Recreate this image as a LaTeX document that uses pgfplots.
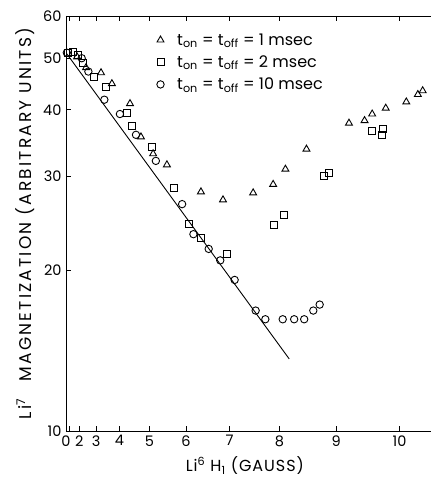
\documentclass[border=0pt]{standalone}
\usepackage{fontspec}
\setmainfont{Poppins}
\usepackage{pgfplots}
\pgfplotsset{compat=1.18}

% field axis is drawn in H^2, labelled in H
\pgfplotstableread{
h     m
1.82  50.3
2.45  48.0
3.24  46.96
3.71  44.8
4.38  41.1
4.74  35.6
5.11  33.1
5.50  31.56
6.36  28.08
6.86  27.13
7.49  27.96
7.88  29.0
8.11  30.97
8.49  33.77
9.21  37.78
9.46  38.2
9.58  39.3
9.79  40.3
10.10 41.4
10.27 42.75
10.34 43.45
}\onems

\pgfplotstableread{
h     m
0.77  51.2
1.45  51.3
1.90  50.75
2.26  49.0
2.90  46.15
3.44  44.08
4.27  39.56
4.46  37.4
5.07  34.15
5.69  28.6
6.08  24.46
6.36  22.99
6.95  21.51
7.89  24.35
8.09  25.39
8.79  30.05
8.87  30.48
9.57  36.55
9.74  36.8
9.73  35.88
}\twoms

\pgfplotstableread{
h     m
0.50  51.2
2.17  50.0
2.59  47.2
3.39  41.8
4.02  39.3
4.58  35.92
5.19  32.1
5.90  26.63
6.18  23.39
6.54  21.95
6.80  20.89
7.11  19.2
7.54  16.82
7.73  16.2
8.06  16.2
8.27  16.2
8.45  16.2
8.61  16.82
8.72  17.26
}\tenms

\begin{document}
\begin{tikzpicture}
\begin{axis}[
    at={(66pt,48pt)}, anchor=south west,
    width=365pt, height=415pt, scale only axis,
    axis x line*=box, axis y line*=left,
    axis line style={line width=0.9pt},
    xmin=0, xmax=10.46,
    x coord trafo/.code={\pgfmathparse{(#1)*(#1)}},
    x coord inv trafo/.code={\pgfmathparse{sqrt(#1)}},
    xtick={0,1,2,3,4,5,6,7,8,9,10},
    xticklabels={0,,2,3,4,5,6,7,8,9,10},
    ymode=log, ymin=10, ymax=60,
    ytick={10,20,30,40,50,60},
    yticklabels={10,20,30,40,50,60},
    tick align=inside, major tick length=5pt,
    tick style={black, line width=0.8pt},
    /pgf/number format/assume math mode=true,
    tick label style={font=\fontsize{14.5}{16}\selectfont},
    xticklabel style={yshift=-1pt},
    yticklabel style={xshift=-1pt},
    xlabel={Li\textsuperscript{6} H\textsubscript{1} (GAUSS)},
    xlabel style={at={(axis description cs:0.49,0)}, anchor=center, yshift=-35pt,
        inner sep=0pt,
        font=\fontsize{16}{18}\selectfont\addfontfeature{LetterSpace=6}},
    ylabel={Li\textsuperscript{7}\quad MAGNETIZATION (ARBITRARY UNITS)},
    ylabel style={at={(axis description cs:-0.112,0.5)}, anchor=center,
        font=\fontsize{17}{19}\selectfont\addfontfeature{LetterSpace=13}},
    legend style={draw=none, fill=none, at={(axis description cs:0.24,0.968)},
        anchor=north west, font=\fontsize{16}{18}\selectfont,
        row sep=5pt, column sep=11pt},
    legend cell align=left,
]
\addplot[black, line width=0.9pt, no marks, forget plot] coordinates {(0,51.2) (8.18,13.65)};
\addplot[only marks, mark=triangle, mark size=4pt, mark options={line width=0.9pt}] table[x=h, y=m] {\onems};
\addplot[only marks, mark=square, mark size=3.5pt, mark options={line width=0.9pt}] table[x=h, y=m] {\twoms};
\addplot[only marks, mark=o, mark size=3.7pt, mark options={line width=0.9pt}] table[x=h, y=m] {\tenms};
\legend{t\textsubscript{on} = t\textsubscript{off} = 1 msec,
        t\textsubscript{on} = t\textsubscript{off} = 2 msec,
        t\textsubscript{on} = t\textsubscript{off} = 10 msec}
\end{axis}
\pgfresetboundingbox
\path (0,0) rectangle (431pt,479pt);
\end{tikzpicture}
\end{document}
